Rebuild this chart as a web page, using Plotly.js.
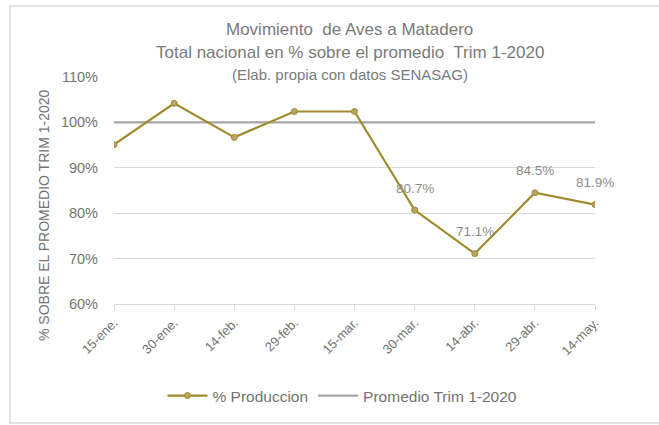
<!DOCTYPE html>
<html>
<head>
<meta charset="utf-8">
<script src="https://cdn.plot.ly/plotly-3.0.1.min.js"></script>
<style>html,body{margin:0;padding:0;background:#fff;}#chart{width:659px;height:425px;}</style>
</head>
<body>
<div id="chart"></div>
<script>
const categories = ["15-ene.", "30-ene.", "14-feb.", "29-feb.", "15-mar.", "30-mar.", "14-abr.", "29-abr.", "14-may."];
const produccion = [95.1, 104.2, 96.7, 102.4, 102.4, 80.7, 71.1, 84.5, 81.9];
const promedio = [100, 100, 100, 100, 100, 100, 100, 100, 100];
const labelText = ["", "", "", "", "", "80.7%", "71.1%", "84.5%", "81.9%"];
const yTicks = [60, 70, 80, 90, 100, 110];
const yTickText = ["60%", "70%", "80%", "90%", "100%", "110%"];
const titleLines = ["Movimiento  de Aves a Matadero", "Total nacional en % sobre el promedio  Trim 1-2020", "(Elab. propia con datos SENASAG)"];
const yTitle = "% SOBRE EL PROMEDIO TRIM 1-2020";

const font = "Liberation Sans, Arial, sans-serif";
const grey = "#737373";

const traces = [
  {
    x: categories, y: promedio, type: "scatter", mode: "lines",
    name: "Promedio Trim 1-2020",
    line: {color: "#a5a5a5", width: 2.2},
    hoverinfo: "skip"
  },
  {
    x: categories, y: produccion, type: "scatter", mode: "lines+markers",
    name: "% Produccion",
    line: {color: "#a08a2c", width: 2.2},
    marker: {size: 6, color: "#b8a46a", line: {color: "#a08a2c", width: 1}}
  }
];

const annotations = [];
const titleY = [30, 52, 75];
const titleSize = [17, 17, 15];
titleLines.forEach((t, i) => {
  annotations.push({
    text: t, xref: "paper", yref: "paper", x: 0.49, xanchor: "center",
    y: (304 - titleY[i]) / 227, yanchor: "middle", showarrow: false,
    font: {family: font, size: titleSize[i], color: "#7a7a7a"}
  });
});
annotations.push({
  text: yTitle, xref: "paper", yref: "paper",
  x: (44 - 114) / 481, y: (304 - 215) / 227, xanchor: "center", yanchor: "middle",
  textangle: -90, showarrow: false,
  font: {family: font, size: 14, color: grey}
});
labelText.forEach((t, i) => {
  if (t) annotations.push({
    text: t, x: categories[i], y: produccion[i], xref: "x", yref: "y",
    showarrow: false, yshift: 22, yanchor: "middle",
    font: {family: font, size: 13.5, color: "#8c8c8c"}
  });
});

const layout = {
  width: 659, height: 425,
  margin: {l: 114, r: 64, t: 77, b: 121},
  paper_bgcolor: "#ffffff", plot_bgcolor: "#ffffff",
  font: {family: font, color: grey},
  showlegend: true,
  legend: {
    orientation: "h", x: 0.475, xanchor: "center", y: (304 - 396) / 227, yanchor: "middle",
    font: {family: font, size: 15.5, color: grey},
    traceorder: "reversed", itemwidth: 40
  },
  xaxis: {
    type: "category", range: [0, 8],
    showgrid: false, zeroline: false,
    showline: true, linecolor: "#d9d9d9", linewidth: 1,
    ticks: "outside", ticklen: 5, tickcolor: "#d9d9d9",
    tickangle: -45,
    tickfont: {family: font, size: 13, color: grey}
  },
  yaxis: {
    range: [60, 110], tickvals: yTicks, ticktext: yTickText,
    showgrid: true, gridcolor: "#d9d9d9", gridwidth: 1,
    zeroline: false, showline: false, ticks: "",
    tickfont: {family: font, size: 14.5, color: grey},
    ticklabelstandoff: 15
  },
  annotations: annotations,
  shapes: [{
    type: "rect", xref: "paper", yref: "paper",
    x0: (10 - 114) / 481, x1: (670 - 114) / 481, y0: (304 - 423) / 227, y1: (304 - 6) / 227,
    line: {color: "#d9d9d9", width: 1.5}, fillcolor: "rgba(0,0,0,0)", layer: "below"
  }]
};

Plotly.newPlot("chart", traces, layout, {displayModeBar: false, staticPlot: true});
</script>
</body>
</html>
